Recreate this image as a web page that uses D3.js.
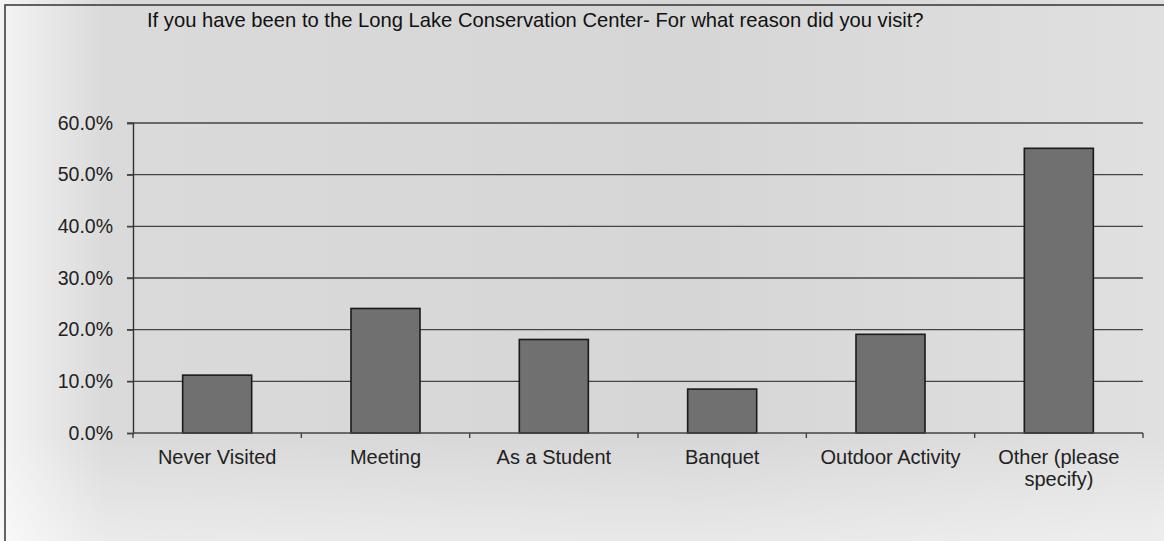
<!DOCTYPE html>
<html>
<head>
<meta charset="utf-8">
<script src="https://cdnjs.cloudflare.com/ajax/libs/d3/7.8.5/d3.min.js"></script>
<style>
  html, body { margin: 0; padding: 0; background: #fff; }
  svg { display: block; font-family: "Liberation Sans", Arial, sans-serif; }
</style>
</head>
<body>
<div id="chart"></div>
<script>
// survey answers
var categories = ["Never Visited", "Meeting", "As a Student", "Banquet", "Outdoor Activity", "Other (please specify)"];
var labelLines = [["Never Visited"], ["Meeting"], ["As a Student"], ["Banquet"], ["Outdoor Activity"], ["Other (please", "specify)"]];
var percents = [11.2, 24.1, 18.1, 8.5, 19.1, 55.1];
var yTicks = [0, 10, 20, 30, 40, 50, 60];
var title = "If you have been to the Long Lake Conservation Center- For what reason did you visit?";

var width = 1164, height = 541;
var margin = { top: 123, right: 21, bottom: 108, left: 133 };

var svg = d3.select('#chart')
  .append('svg')
  .attr('width', width)
  .attr('height', height);

// scanned paper look
var defs = svg.append('defs');
var grad = defs.append('linearGradient').attr('id', 'paper').attr('x1', 0).attr('x2', 1).attr('y1', 0).attr('y2', 0);
grad.append('stop').attr('offset', '0%').attr('stop-color', '#f4f4f4');
grad.append('stop').attr('offset', '9%').attr('stop-color', '#dadada');
grad.append('stop').attr('offset', '60%').attr('stop-color', '#d6d6d6');
grad.append('stop').attr('offset', '100%').attr('stop-color', '#e0e0e0');
var vgrad = defs.append('linearGradient').attr('id', 'fade').attr('x1', 0).attr('x2', 0).attr('y1', 0).attr('y2', 1);
vgrad.append('stop').attr('offset', '80%').attr('stop-color', '#fff').attr('stop-opacity', 0);
vgrad.append('stop').attr('offset', '100%').attr('stop-color', '#fff').attr('stop-opacity', 0.45);

svg.append('rect').attr('width', width).attr('height', height).attr('fill', 'url(#paper)');
svg.append('rect').attr('width', width).attr('height', height).attr('fill', 'url(#fade)');

// chart frame (top and left edge)
svg.append('path')
  .attr('d', 'M5,' + height + 'V5H' + width)
  .attr('fill', 'none').attr('stroke', '#333').attr('stroke-width', 1.5);

svg.append('text')
  .attr('x', 147).attr('y', 27)
  .attr('font-size', 20.2)
  .attr('fill', '#111')
  .text(title);

var x = d3.scaleBand()
  .domain(categories)
  .range([margin.left, width - margin.right])
  .paddingInner(0.59)
  .paddingOuter(0.295);

var y = d3.scaleLinear()
  .domain([0, 60])
  .range([height - margin.bottom, margin.top]);

var g = svg.append('g');

// grid lines
g.selectAll('.grid')
  .data(yTicks.filter(function(d) { return d > 0; }))
  .enter()
  .append('line')
  .attr('x1', margin.left - 6).attr('x2', width - margin.right)
  .attr('y1', function(d) { return y(d); }).attr('y2', function(d) { return y(d); })
  .attr('stroke', '#444').attr('stroke-width', 1.4);

// y axis
var yAxis = d3.axisLeft(y)
  .tickValues(yTicks)
  .tickSize(6)
  .tickFormat(function(d) { return d.toFixed(1) + '%'; });
var ya = g.append('g').attr('transform', 'translate(' + margin.left + ',0)').call(yAxis);
ya.select('.domain').attr('stroke', '#333').attr('stroke-width', 1.4);
ya.selectAll('.tick line').attr('stroke', '#444').attr('stroke-width', 1.4);
ya.selectAll('.tick text')
  .attr('x', -20)
  .attr('font-size', 19.5)
  .attr('fill', '#222')
  .attr('font-family', '"Liberation Sans", Arial, sans-serif');

// bars
g.selectAll('.bar')
  .data(percents)
  .enter()
  .append('rect')
  .attr('x', function(d, i) { return x(categories[i]); })
  .attr('width', x.bandwidth())
  .attr('y', function(d) { return y(d); })
  .attr('height', function(d) { return y(0) - y(d); })
  .attr('fill', '#707070')
  .attr('stroke', '#1a1a1a')
  .attr('stroke-width', 1.6);

// x axis line and ticks at band boundaries
var step = x.step();
var boundaries = categories.map(function(c) { return x(c) - step * x.paddingInner() / 2; });
boundaries.push(boundaries[boundaries.length - 1] + step);
g.append('line')
  .attr('x1', margin.left).attr('x2', width - margin.right)
  .attr('y1', y(0)).attr('y2', y(0))
  .attr('stroke', '#444').attr('stroke-width', 1.4);
g.selectAll('.xtick')
  .data(boundaries)
  .enter()
  .append('line')
  .attr('x1', function(d) { return d; }).attr('x2', function(d) { return d; })
  .attr('y1', y(0)).attr('y2', y(0) + 5)
  .attr('stroke', '#444').attr('stroke-width', 1.4);

// category labels
var lbl = g.selectAll('.xlabel')
  .data(labelLines)
  .enter()
  .append('text')
  .attr('text-anchor', 'middle')
  .attr('font-size', 20)
  .attr('fill', '#222')
  .attr('transform', function(d, i) { return 'translate(' + (x(categories[i]) + x.bandwidth() / 2) + ',' + (y(0) + 31) + ')'; });
lbl.selectAll('tspan')
  .data(function(d) { return d; })
  .enter()
  .append('tspan')
  .attr('x', 0)
  .attr('dy', function(d, i) { return i === 0 ? 0 : 22; })
  .text(function(d) { return d; });
</script>
</body>
</html>
